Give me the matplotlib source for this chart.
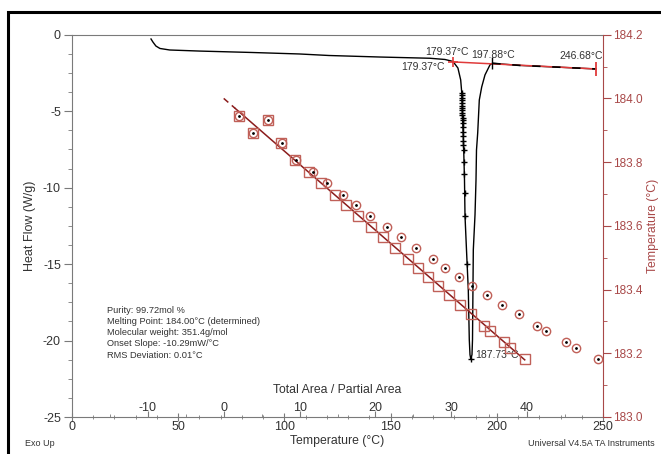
import numpy as np
import matplotlib
matplotlib.use('Agg')
import matplotlib.pyplot as plt
from matplotlib.patches import Rectangle
from matplotlib.ticker import MultipleLocator, FormatStrFormatter

plt.rcParams['font.family'] = ['Liberation Sans', 'DejaVu Sans']
plt.rcParams['axes.unicode_minus'] = False

# DSC curve: temperature (C) and heat flow (W/g)
dsc_temp = [37.2, 38.1, 39.5, 41.4, 46.0, 60.0, 84.0, 107.0, 121.0, 145.0, 168.5, 175.6,
            179.37, 181.7, 183.0, 183.47, 184.09, 184.42, 184.79, 185.03, 185.73, 186.58,
            187.05, 187.38, 187.73, 188.32, 188.56, 188.94, 189.74, 190.21, 190.44, 191.01,
            191.76, 192.89, 194.44, 196.8, 197.88, 211.0, 230.0, 246.68]
dsc_flow = [-0.28, -0.48, -0.74, -0.90, -1.00, -1.07, -1.16, -1.26, -1.36, -1.46, -1.54, -1.62,
            -1.75, -2.18, -2.96, -3.75, -6.23, -7.54, -9.50, -11.85, -14.07, -16.69,
            -19.95, -20.93, -21.20, -20.93, -19.95, -14.07, -11.78, -9.50, -7.54, -6.42,
            -4.27, -3.42, -2.63, -1.97, -1.87, -2.01, -2.13, -2.24]

# partial area points on the leading edge
cross_temp = [183.49, 183.52, 183.57, 183.61, 183.65, 183.69, 183.73, 183.77, 183.81, 183.85,
              183.89, 183.93, 183.97, 184.04, 184.12, 184.17, 184.24, 184.32, 184.42, 184.57,
              184.72, 184.88, 185.03, 186.03, 187.73]
cross_flow = [-3.81, -3.97, -4.14, -4.30, -4.46, -4.63, -4.79, -4.95, -5.12, -5.28,
              -5.44, -5.58, -5.77, -6.03, -6.36, -6.62, -6.95, -7.21, -7.53, -8.32,
              -9.10, -10.34, -11.85, -14.99, -21.20]

# baseline
base_temp = [179.37, 246.68]
base_flow = [-1.78, -2.24]

# purity plot: sample temperature vs 1/F
fit_temp = [183.946, 183.892, 183.932, 183.859, 183.807, 183.770, 183.733, 183.697, 183.665,
            183.632, 183.595, 183.565, 183.529, 183.495, 183.468, 183.440, 183.412, 183.383,
            183.351, 183.322, 183.285, 183.270, 183.236, 183.217, 183.181]
inv_f_corr = [1.98, 3.88, 5.85, 7.61, 9.45, 11.21, 12.88, 14.63, 16.11, 17.72, 19.47, 21.02,
              22.64, 24.31, 25.58, 26.90, 28.21, 29.66, 31.21, 32.66, 34.28, 35.16, 36.91,
              37.80, 39.68]
inv_f_raw = [1.98, 3.88, 5.85, 7.74, 9.58, 11.79, 13.63, 15.74, 17.43, 19.34, 21.54, 23.39,
             25.41, 27.61, 29.23, 30.98, 32.75, 34.73, 36.70, 38.89, 41.32, 42.55, 45.18,
             46.46, 49.36]
melt_point = 184.00
fit_slope = -0.02068

info = ["Purity: 99.72mol %",
        "Melting Point: 184.00\u00b0C (determined)",
        "Molecular weight: 351.4g/mol",
        "Onset Slope: -10.29mW/\u00b0C",
        "RMS Deviation: 0.01\u00b0C"]

gray = '#7a7a7a'
txt = '#333333'
red_axis = '#a84848'
mark = '#c06058'
fit_col = '#8b1c1c'

W, H = 661, 454
fig = plt.figure(figsize=(W / 100, H / 100), dpi=100)
pos = [72 / W, 1 - 417 / H, (603 - 72) / W, (417 - 34.7) / H]

# frame around the whole picture
fig.patches.append(Rectangle((8 / W, -0.05), 1.1, 1 - 12 / H + 0.05, transform=fig.transFigure,
                             fill=False, edgecolor='black', linewidth=2.2))

ax = fig.add_axes(pos)
ax.set_xlim(0, 250)
ax.set_ylim(-25, 0)
for s in ['top', 'left', 'bottom']:
    ax.spines[s].set_color(gray)
ax.spines['right'].set_visible(False)
ax.xaxis.set_major_locator(MultipleLocator(50))
ax.xaxis.set_minor_locator(MultipleLocator(10))
ax.yaxis.set_major_locator(MultipleLocator(5))
ax.yaxis.set_minor_locator(MultipleLocator(1.25))
ax.tick_params(axis='y', which='major', length=6, color=gray, labelcolor=txt, labelsize=9, pad=2)
ax.tick_params(axis='y', which='minor', length=3, color=gray)
ax.tick_params(axis='x', which='major', direction='inout', length=6, color=gray, labelcolor=txt,
               labelsize=9, pad=0)
ax.tick_params(axis='x', which='minor', direction='inout', length=3, color=gray)
ax.set_ylabel('Heat Flow (W/g)', fontsize=9, color=txt, labelpad=5)
ax.set_xlabel('Temperature (\u00b0C)', fontsize=8.8, color=txt, labelpad=1)

ax.plot(dsc_temp, dsc_flow, color='black', lw=1.0, zorder=3)
ax.plot(base_temp, base_flow, color='#e03a3a', lw=1.1, zorder=4)
# tail of the curve shows through the baseline as dashes
tail_t = dsc_temp[dsc_temp.index(197.88):]
tail_f = dsc_flow[dsc_flow.index(-1.87):]
ax.plot(tail_t, tail_f, color='black', lw=1.2, dashes=(5, 7), zorder=5)
ax.plot(cross_temp, cross_flow, '+', color='black', ms=5, mew=1.0, zorder=6)
ax.plot([base_temp[0]], [base_flow[0]], '+', color='#e03a3a', ms=7, mew=1.2, zorder=6)
ax.plot([197.88], [-1.87], '|', color='black', ms=9, mew=1.0, zorder=6)
ax.plot([base_temp[1]], [base_flow[1]], '|', color='#e03a3a', ms=10, mew=1.3, zorder=6)

lab = dict(fontsize=7.5, color=txt, ha='center', va='center')
ax.text(176.5, -1.13, '179.37\u00b0C', **lab)
ax.text(165.3, -2.11, '179.37\u00b0C', **lab)
ax.text(198.4, -1.33, '197.88\u00b0C', **lab)
ax.text(239.6, -1.39, '246.68\u00b0C', **lab)
ax.text(200.0, -20.93, '187.73\u00b0C', **lab)

ax.text(0.066, 0.29, '\n'.join(info), transform=ax.transAxes, fontsize=6.7, color=txt,
        va='top', ha='left', linespacing=1.3)

# purity plot axes (1/F on bottom, temperature on right)
af = fig.add_axes(pos, facecolor='none')
af.set_xlim(-20, 50)
af.set_ylim(183.0, 184.2)
for s in ['top', 'left', 'bottom']:
    af.spines[s].set_visible(False)
af.spines['right'].set_color(red_axis)
af.yaxis.tick_right()
af.yaxis.set_label_position('right')
af.yaxis.set_major_locator(MultipleLocator(0.2))
af.yaxis.set_minor_locator(MultipleLocator(0.1))
af.yaxis.set_major_formatter(FormatStrFormatter('%.1f'))
af.tick_params(axis='y', which='major', length=6, color=red_axis, labelcolor=red_axis,
               labelsize=8.5, pad=1.5)
af.tick_params(axis='y', which='minor', length=3, color=red_axis)
af.set_ylabel('Temperature (\u00b0C)', fontsize=8.8, color=red_axis, labelpad=3)
af.set_xticks([-10, 0, 10, 20, 30, 40])
af.xaxis.set_minor_locator(MultipleLocator(5))
af.tick_params(axis='x', which='major', direction='in', length=4, color=gray, labelcolor=txt,
               labelsize=9, pad=-11)
af.tick_params(axis='x', which='minor', direction='in', length=2, color=gray)
af.text(0.5, 0.07, 'Total Area / Partial Area', transform=af.transAxes, fontsize=8.8,
        color=txt, ha='center', va='center')

x0 = inv_f_corr[0] * 0.75
xs = np.array([0, x0])
af.plot(xs, melt_point + fit_slope * xs, color=fit_col, lw=1.1, dashes=(4, 3), zorder=3)
xs = np.array([x0, inv_f_corr[-1]])
af.plot(xs, melt_point + fit_slope * xs, color=fit_col, lw=1.1, zorder=3)
af.plot(inv_f_corr, fit_temp, 's', mfc='none', mec=mark, ms=6.5, mew=1.0, zorder=4)
af.plot(inv_f_raw, fit_temp, 'o', mfc='none', mec=mark, ms=6, mew=1.0, zorder=4)
af.plot(inv_f_raw, fit_temp, '.', color='black', ms=2, zorder=5)

fig.text(40 / W, 1 - 443 / H, 'Exo Up', fontsize=6.5, color=txt, ha='center', va='center')
fig.text(655 / W, 1 - 443 / H, 'Universal V4.5A TA Instruments', fontsize=6.5, color=txt,
         ha='right', va='center')

fig.savefig('out.png', dpi=100)
